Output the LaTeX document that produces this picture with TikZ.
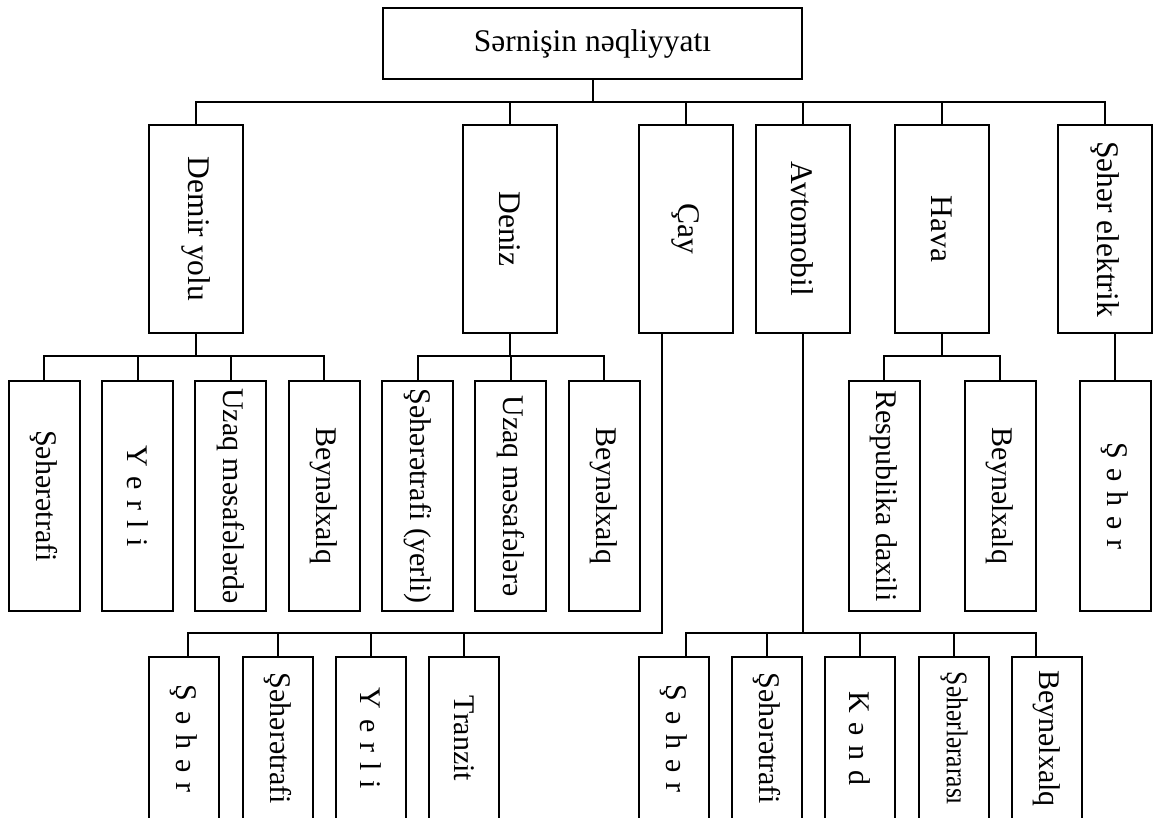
\documentclass[tikz,border=0pt]{standalone}
\usepackage{fontspec}
\setmainfont{Liberation Serif}
\usepackage{graphicx}

\newcommand{\topfont}{\fontsize{31.5}{38}\selectfont}
\newcommand{\lowfont}{\fontsize{30}{36}\selectfont}
\newcommand{\vtext}[1]{\rotatebox{-90}{#1}}
\newcommand{\widetext}[1]{\rotatebox{-90}{\spaceskip=0.33em\relax #1}}

\tikzset{
  box/.style={draw, line width=2pt, inner sep=0pt},
  link/.style={line width=2pt},
  lvone/.style={box, minimum width=94pt, minimum height=208pt, font=\topfont},
  lvtwo/.style={box, minimum width=71pt, minimum height=230pt, font=\lowfont},
  lvthree/.style={box, minimum width=70pt, minimum height=163pt, font=\lowfont},
}

\begin{document}
\begin{tikzpicture}[x=1pt, y=-1pt]
    \useasboundingbox (0,0) rectangle (1154,818);
    \clip (0,0) rectangle (1154,818);

    \node[box, minimum width=419pt, minimum height=71pt, font=\topfont] (top) at (592.5,43.5) {Sərnişin nəqliyyatı};

    % first level
    \node[lvone] (demir) at (196,229) {\vtext{Demir yolu}};
    \node[lvone] (deniz) at (510,229) {\vtext{Deniz}};
    \node[lvone] (cay) at (685.5,229) {\vtext{Çay}};
    \node[lvone] (avto) at (802.5,229) {\vtext{Avtomobil}};
    \node[lvone] (hava) at (942,229) {\vtext{Hava}};
    \node[lvone] (seher) at (1105,229) {\vtext{Şəhər elektrik}};

    % second level
    \node[lvtwo] (d1) at (44,496) {\vtext{Şəhərətrafi}};
    \node[lvtwo] (d2) at (137.5,496) {\widetext{Y e r l i}};
    \node[lvtwo] (d3) at (230.5,496) {\vtext{Uzaq məsafələrdə}};
    \node[lvtwo] (d4) at (324,496) {\vtext{Beynəlxalq}};

    \node[lvtwo] (n1) at (417.5,496) {\vtext{Şəhərətrafi (yerli)}};
    \node[lvtwo] (n2) at (510.5,496) {\vtext{Uzaq məsafələrə}};
    \node[lvtwo] (n3) at (604,496) {\vtext{Beynəlxalq}};

    \node[lvtwo] (h1) at (884,496) {\vtext{Respublika daxili}};
    \node[lvtwo] (h2) at (1000,496) {\vtext{Beynəlxalq}};

    \node[lvtwo] (e1) at (1115,496) {\widetext{Ş ə h ə r}};

    % third level
    \node[lvthree] (c1) at (184,738.5) {\widetext{Ş ə h ə r}};
    \node[lvthree] (c2) at (277.5,738.5) {\vtext{Şəhərətrafi}};
    \node[lvthree] (c3) at (371,738.5) {\widetext{Y e r l i}};
    \node[lvthree] (c4) at (464,738.5) {\vtext{Tranzit}};

    \node[lvthree] (a1) at (674,738.5) {\widetext{Ş ə h ə r}};
    \node[lvthree] (a2) at (767,738.5) {\vtext{Şəhərətrafi}};
    \node[lvthree] (a3) at (860,738.5) {\widetext{K ə n d}};
    \node[lvthree] (a4) at (954,738.5) {\vtext{\scalebox{0.85}[1]{Şəhərlərarası}}};
    \node[lvthree] (a5) at (1047,738.5) {\vtext{Beynəlxalq}};

    \coordinate (b0) at (0,102);
    \coordinate (b1) at (0,356);
    \coordinate (b2) at (0,633);
    \coordinate (cayturn) at (662,633);
    \coordinate (c1top) at ([xshift=4pt]c1.north);
    \coordinate (a1top) at ([xshift=12pt]a1.north);
    \coordinate (a5top) at ([xshift=-11pt]a5.north);

    % connectors
    \draw[link] (top.south) -- (top.south |- b0);
    \draw[link] (demir.north) |- (b0 -| seher.north) -- (seher.north);
    \foreach \n in {deniz,cay,avto,hava}
        \draw[link] (\n.north) -- (\n.north |- b0);

    \draw[link] (demir.south) -- (demir.south |- b1);
    \draw[link] (d1.north) |- (b1 -| d4.north) -- (d4.north);
    \foreach \n in {d2,d3}
        \draw[link] (\n.north) -- (\n.north |- b1);

    \draw[link] (deniz.south) -- (deniz.south |- b1);
    \draw[link] (n1.north) |- (b1 -| n3.north) -- (n3.north);
    \draw[link] (n2.north) -- (n2.north |- b1);

    \draw[link] (hava.south) -- (hava.south |- b1);
    \draw[link] (h1.north) |- (b1 -| h2.north) -- (h2.north);

    \draw[link] (e1.north) -- (e1.north |- seher.south);

    \draw[link] (cay.south -| cayturn) -- (cayturn) -| (c1top);
    \foreach \n in {c2,c3,c4}
        \draw[link] (\n.north) -- (\n.north |- b2);

    \draw[link] (avto.south) -- (avto.south |- b2);
    \draw[link] (a1top) |- (b2 -| a5top) -- (a5top);
    \foreach \n in {a2,a3,a4}
        \draw[link] (\n.north) -- (\n.north |- b2);
\end{tikzpicture}
\end{document}
